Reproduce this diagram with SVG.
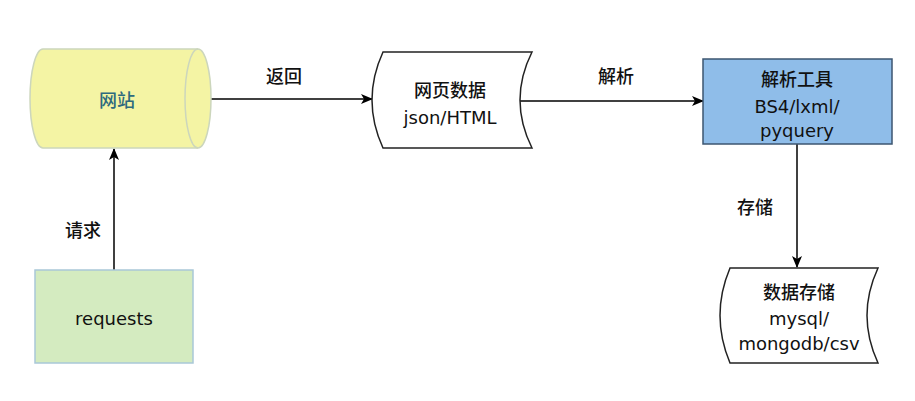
<svg xmlns="http://www.w3.org/2000/svg" width="915" height="401" viewBox="0 0 915 401">
<defs>
<marker id="arr" markerWidth="12" markerHeight="10" refX="11" refY="5" orient="auto" markerUnits="userSpaceOnUse">
<path d="M0,0 L12,5 L0,10 L3,5 Z" fill="#000"/>
</marker>
<style>
text{font-family:"DejaVu Sans","Noto Sans CJK SC",sans-serif;font-size:18px;font-weight:500;text-anchor:middle;dominant-baseline:central;fill:#111}
.edge{fill:none;stroke:#000;stroke-width:1.5;marker-end:url(#arr)}
.doc{fill:#fff;stroke:#222;stroke-width:1.5}
</style>
</defs>
<rect width="915" height="401" fill="#fff"/>
<g id="connectors">
<path class="edge" d="M211,99 L372,99"/>
<path class="edge" d="M520,101 L703,101"/>
<path class="edge" d="M797,144 L797,267"/>
<path class="edge" d="M114,270 L114,149"/>
<text x="284" y="76">返回</text>
<text x="616" y="76">解析</text>
<text x="755" y="207">存储</text>
<text x="83" y="230">请求</text>
</g>
<g id="website">
<path d="M43,49 L198,49 A13,49.5 0 0 1 198,148 L43,148 A13,49.5 0 0 1 43,49 Z" fill="#f4f4a4" stroke="#ccd6bc" stroke-width="1.5"/>
<path d="M198,49 A13,49.5 0 0 0 198,148" fill="none" stroke="#ccd6bc" stroke-width="1.5"/>
<text x="117" y="100" style="fill:#2d6a7e">网站</text>
</g>
<g id="webdata">
<path class="doc" d="M383,52 L532,52 Q508,100 532,148 L383,148 Q361,100 383,52 Z"/>
<text x="450" y="90">网页数据</text>
<text x="450" y="117">json/HTML</text>
</g>
<g id="parser">
<rect x="703" y="59" width="189" height="85" fill="#8fbde9" stroke="#3d5670" stroke-width="1.5"/>
<text x="797" y="79">解析工具</text>
<text x="797" y="106">BS4/lxml/</text>
<text x="797" y="130">pyquery</text>
</g>
<g id="storage">
<path class="doc" d="M730,268 L878,268 Q856,315.5 878,363 L730,363 Q710,315.5 730,268 Z"/>
<text x="799" y="292">数据存储</text>
<text x="799" y="318">mysql/</text>
<text x="799" y="343">mongodb/csv</text>
</g>
<g id="requests">
<rect x="35" y="270" width="158" height="93" fill="#d4ebc0" stroke="#a9c8d8" stroke-width="1.5"/>
<text x="114" y="318">requests</text>
</g>
</svg>
